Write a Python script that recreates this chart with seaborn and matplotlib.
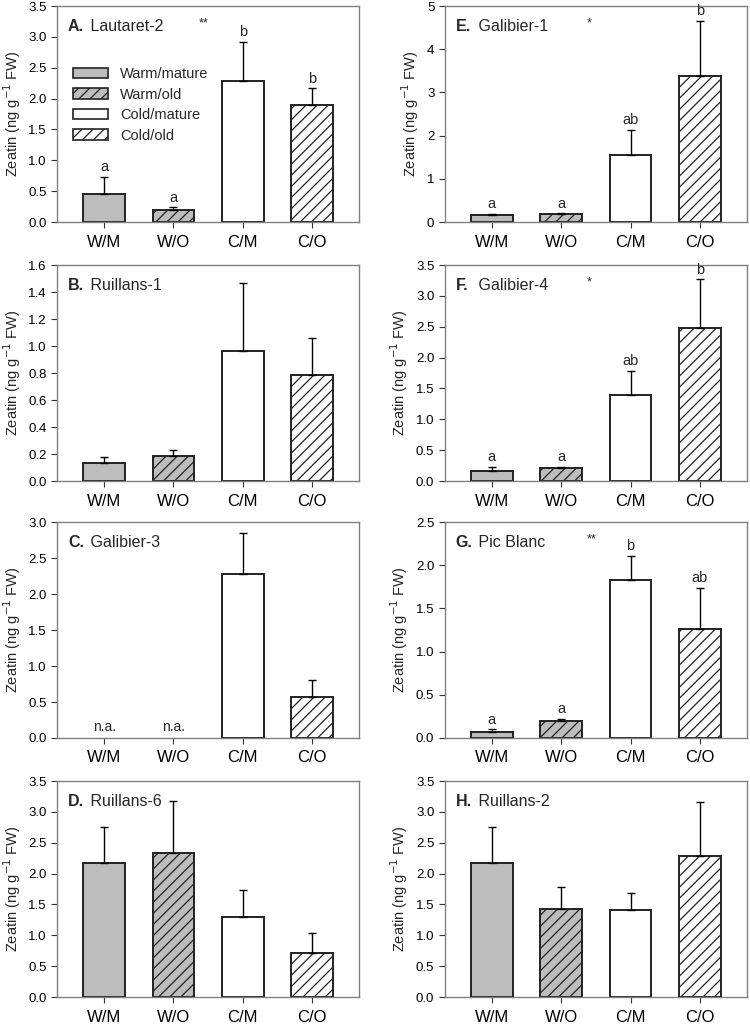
import numpy as np
import pandas as pd
import matplotlib
matplotlib.use("Agg")
import matplotlib.pyplot as plt
import seaborn as sns
from matplotlib.patches import Patch

sns.set_style("ticks")
plt.rcParams['font.family'] = ['Liberation Sans', 'DejaVu Sans']
plt.rcParams['hatch.color'] = 'black'
plt.rcParams['hatch.linewidth'] = 0.9

groups = ['W/M', 'W/O', 'C/M', 'C/O']
legend_names = ['Warm/mature', 'Warm/old', 'Cold/mature', 'Cold/old']

# means and upper error-bar tips, nan = not analysed
site_a_mean = [0.46, 0.20, 2.28, 1.90]
site_a_top = [0.73, 0.24, 2.92, 2.17]
site_b_mean = [0.13, 0.185, 0.965, 0.785]
site_b_top = [0.175, 0.23, 1.465, 1.06]
site_c_mean = [np.nan, np.nan, 2.28, 0.57]
site_c_top = [np.nan, np.nan, 2.85, 0.80]
site_d_mean = [2.17, 2.33, 1.29, 0.72]
site_d_top = [2.76, 3.17, 1.74, 1.04]
site_e_mean = [0.17, 0.18, 1.56, 3.39]
site_e_top = [0.19, 0.20, 2.13, 4.66]
site_f_mean = [0.16, 0.21, 1.40, 2.48]
site_f_top = [0.23, 0.23, 1.79, 3.27]
site_g_mean = [0.07, 0.20, 1.83, 1.26]
site_g_top = [0.10, 0.22, 2.11, 1.74]
site_h_mean = [2.18, 1.42, 1.41, 2.28]
site_h_top = [2.76, 1.79, 1.69, 3.16]

panels = [
    # letter, name, means, tops, ymax, ystep, sig letters, stars
    ('A.', 'Lautaret-2', site_a_mean, site_a_top, 3.5, 0.5, ['a', 'a', 'b', 'b'], '**'),
    ('B.', 'Ruillans-1', site_b_mean, site_b_top, 1.6, 0.2, None, ''),
    ('C.', 'Galibier-3', site_c_mean, site_c_top, 3.0, 0.5, None, ''),
    ('D.', 'Ruillans-6', site_d_mean, site_d_top, 3.5, 0.5, None, ''),
    ('E.', 'Galibier-1', site_e_mean, site_e_top, 5.0, 1.0, ['a', 'a', 'ab', 'b'], '*'),
    ('F.', 'Galibier-4', site_f_mean, site_f_top, 3.5, 0.5, ['a', 'a', 'ab', 'b'], '*'),
    ('G.', 'Pic Blanc', site_g_mean, site_g_top, 2.5, 0.5, ['a', 'a', 'b', 'ab'], '**'),
    ('H.', 'Ruillans-2', site_h_mean, site_h_top, 3.5, 0.5, None, ''),
]

colors = {'W/M': '#bdbdbd', 'W/O': '#bdbdbd', 'C/M': 'white', 'C/O': 'white'}
hatches = ['', '///', '', '///']
spine_col = '#808080'

fig = plt.figure(figsize=(7.5, 10.25), dpi=100)
lefts = [0.076, 0.593]
bottoms = [0.7834, 0.5307, 0.28, 0.0273]

for i, (letter, name, means, tops, ymax, ystep, sig, stars) in enumerate(panels):
    col, row = divmod(i, 4)
    ax = fig.add_axes([lefts[col], bottoms[row], 0.403, 0.2107])
    df = pd.DataFrame({'group': groups, 'value': means})
    sns.barplot(data=df, x='group', y='value', hue='group', order=groups,
                hue_order=groups, palette=colors, legend=False, width=0.6,
                edgecolor='#222222', linewidth=1.4, ax=ax)
    for p in ax.patches:
        idx = int(round(p.get_x() + p.get_width() / 2))
        p.set_hatch(hatches[idx])

    xs = np.arange(len(groups))
    m = np.array(means, dtype=float)
    t = np.array(tops, dtype=float)
    ok = ~np.isnan(m)
    ax.errorbar(xs[ok], m[ok], yerr=[np.zeros(ok.sum()), (t - m)[ok]],
                fmt='none', ecolor='black', elinewidth=1, capsize=3, capthick=1)

    if sig is not None:
        for x, top, s in zip(xs, t, sig):
            ax.text(x, top + ymax * 0.012, s, ha='center', va='bottom', fontsize=10.5)
    for x in xs[~ok]:
        ax.text(x, ymax * 0.02, 'n.a.', ha='center', va='bottom', fontsize=10)

    ax.text(0.036, 0.905, letter, transform=ax.transAxes, fontsize=11.5,
            fontweight='bold', va='center')
    ax.text(0.036 + 0.06, 0.905, ' ' + name, transform=ax.transAxes, fontsize=11.5,
            va='center')
    if stars:
        ax.text(0.47, 0.92, stars, transform=ax.transAxes, fontsize=9, va='center')

    ax.set_xlim(-0.68, 3.68)
    ax.set_ylim(0, ymax)
    ax.set_yticks(np.arange(0, ymax + ystep / 2, ystep))
    if ystep >= 1:
        ax.set_yticklabels([f'{v:.0f}' for v in ax.get_yticks()])
    else:
        ax.set_yticklabels([f'{v:.1f}' for v in ax.get_yticks()])
    ax.set_xlabel('')
    ax.set_ylabel('Zeatin (ng g$^{-1}$ FW)', fontsize=10.5)
    ax.tick_params(axis='y', labelsize=9.5, colors='#333333', length=4, width=0.8)
    ax.tick_params(axis='x', labelsize=12, colors='#333333', length=4, width=0.8, pad=5)
    for lab in ax.get_xticklabels() + ax.get_yticklabels():
        lab.set_color('black')
    for sp in ax.spines.values():
        sp.set_visible(True)
        sp.set_color(spine_col)
        sp.set_linewidth(1)

    if letter == 'A.':
        handles = [Patch(facecolor=colors[g], edgecolor='#222222', hatch=h, linewidth=1.2)
                   for g, h in zip(groups, hatches)]
        leg = ax.legend(handles, legend_names, loc='upper left',
                        bbox_to_anchor=(0.035, 0.745), frameon=False, fontsize=10.5,
                        handlelength=2.4, handleheight=0.7, labelspacing=0.45,
                        handletextpad=0.8, borderaxespad=0)

fig.savefig('out.png', dpi=100)
